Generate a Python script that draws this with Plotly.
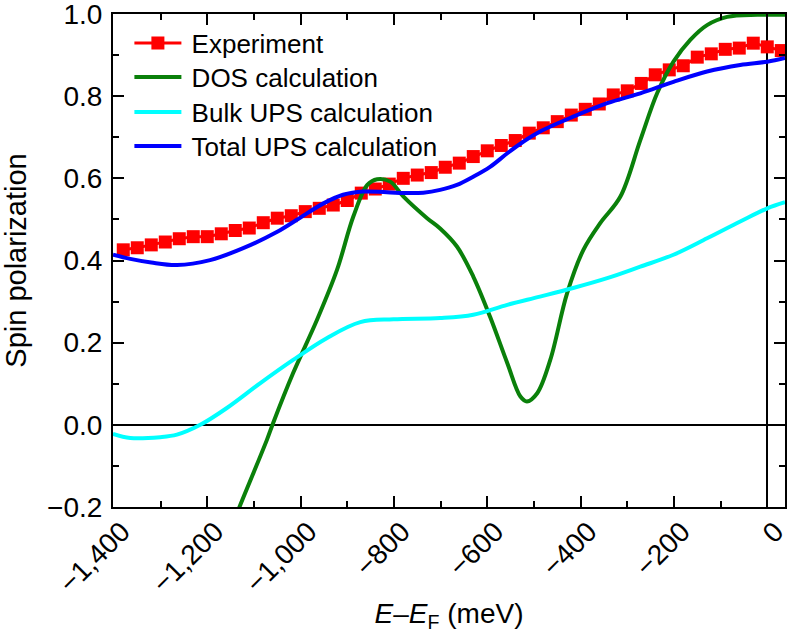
import plotly.graph_objects as go

# Experiment (markers)
exp_x = [-1380 + 30 * i for i in range(48)]
exp_y = [0.426, 0.431, 0.438, 0.445, 0.453, 0.458, 0.458, 0.465, 0.473, 0.479, 0.492, 0.503,
         0.509, 0.519, 0.527, 0.535, 0.546, 0.564, 0.574, 0.586, 0.600, 0.608, 0.614, 0.627,
         0.637, 0.653, 0.667, 0.680, 0.692, 0.710, 0.723, 0.738, 0.754, 0.768, 0.781, 0.803,
         0.813, 0.831, 0.852, 0.864, 0.874, 0.895, 0.903, 0.914, 0.917, 0.929, 0.920, 0.911]

# DOS calculation
dos_x = [-1145, -1131, -1072, -1059, -1016, -965, -922, -887, -857, -836, -808, -780, -729,
         -701, -665, -630, -594, -557, -529, -515, -493, -465, -429, -394, -358, -315, -272,
         -236, -201, -165, -129, -86, -21, 40]
dos_y = [-0.24, -0.2, -0.036, 0.004, 0.126, 0.255, 0.377, 0.507, 0.584, 0.598, 0.592, 0.556, 0.503,
         0.478, 0.434, 0.361, 0.263, 0.150, 0.069, 0.057, 0.077, 0.158, 0.320, 0.426, 0.491, 0.555,
         0.693, 0.807, 0.884, 0.937, 0.973, 0.993, 0.998, 0.998]

# Bulk UPS calculation
bulk_x = [-1402, -1365, -1301, -1265, -1215, -1158, -1087, -1016, -944, -872, -801, -701, -630,
          -557, -487, -416, -343, -272, -201, -129, -58, 0, 38]
bulk_y = [-0.022, -0.032, -0.030, -0.024, 0.0, 0.041, 0.101, 0.158, 0.211, 0.250, 0.257, 0.260,
          0.268, 0.292, 0.312, 0.333, 0.357, 0.385, 0.414, 0.454, 0.495, 0.527, 0.542]

# Total UPS calculation
tot_x = [-1402, -1365, -1320, -1265, -1194, -1123, -1050, -1008, -951, -909, -866, -815, -765,
         -737, -701, -665, -630, -594, -557, -523, -487, -416, -343, -272, -201, -129, -58, 0, 38]
tot_y = [0.414, 0.404, 0.395, 0.389, 0.401, 0.430, 0.470, 0.499, 0.539, 0.560, 0.568, 0.566,
         0.564, 0.565, 0.572, 0.584, 0.604, 0.628, 0.661, 0.689, 0.714, 0.750, 0.783, 0.807,
         0.835, 0.860, 0.876, 0.884, 0.893]

# Tick labels
x_tickvals = [-1400, -1200, -1000, -800, -600, -400, -200, 0]
x_ticktext = ["−1,400", "−1,200", "−1,000", "−800", "−600", "−400", "−200", "0"]
y_tickvals = [-0.2, 0.0, 0.2, 0.4, 0.6, 0.8, 1.0]
y_ticktext = ["−0.2", "0.0", "0.2", "0.4", "0.6", "0.8", "1.0"]

series_names = ["Experiment", "DOS calculation", "Bulk UPS calculation", "Total UPS calculation"]

FONT = "Liberation Sans, Arial, Helvetica, sans-serif"

fig = go.Figure()
fig.add_trace(go.Scatter(x=exp_x, y=exp_y, mode="lines+markers", name="\u2009" + series_names[0],
                         legend="legend",
                         line=dict(color="#ff0000", width=3),
                         marker=dict(symbol="square", size=13, color="#ff0000")))
fig.add_trace(go.Scatter(x=dos_x, y=dos_y, mode="lines", name="\u2009" + series_names[1],
                         legend="legend2",
                         line=dict(color="#0a800a", width=4, shape="spline")))
fig.add_trace(go.Scatter(x=bulk_x, y=bulk_y, mode="lines", name="\u2009" + series_names[2],
                         legend="legend3",
                         line=dict(color="#00ffff", width=4, shape="spline")))
fig.add_trace(go.Scatter(x=tot_x, y=tot_y, mode="lines", name="\u2009" + series_names[3],
                         legend="legend4",
                         line=dict(color="#0000ff", width=4, shape="spline")))

def leg(ycenter):
    return dict(x=0.0244, y=ycenter, xanchor="left", yanchor="middle",
                bgcolor="rgba(0,0,0,0)", font=dict(size=26), itemwidth=47)

fig.update_layout(
    width=788, height=633,
    margin=dict(l=113, r=3, t=14, b=126, autoexpand=False),
    paper_bgcolor="white", plot_bgcolor="white",
    font=dict(family=FONT, size=28, color="black"),
    showlegend=True,
    legend=leg(0.9412), legend2=leg(0.8722), legend3=leg(0.8012), legend4=leg(0.7323),
    xaxis=dict(range=[-1402, 38], tickmode="array", tickvals=x_tickvals, ticktext=x_ticktext,
               tickangle=-45, automargin=False, ticklabeloverflow="allow",
               ticks="inside", ticklen=11, tickwidth=2, tickcolor="black",
               showline=True, linecolor="black", linewidth=2, mirror="ticks",
               showgrid=False, zeroline=True, zerolinecolor="black", zerolinewidth=2,
               minor=dict(dtick=100, ticks="inside", ticklen=6, tickwidth=2, tickcolor="black"),
               ticklabelstandoff=-5, ticklabelshift=8, tickfont=dict(size=28),
               title=dict(text="<i>E</i>–<i>E</i><sub>F</sub> (meV)", font=dict(size=28), standoff=8)),
    yaxis=dict(range=[-0.2, 1.0], tickmode="array", tickvals=y_tickvals, ticktext=y_ticktext,
               automargin=False, ticklabeloverflow="allow",
               ticks="inside", ticklen=11, tickwidth=2, tickcolor="black",
               showline=True, linecolor="black", linewidth=2, mirror="ticks",
               showgrid=False, zeroline=True, zerolinecolor="black", zerolinewidth=2,
               minor=dict(dtick=0.1, ticks="inside", ticklen=6, tickwidth=2, tickcolor="black"),
               ticklabelstandoff=3, tickfont=dict(size=28),
               title=dict(text="Spin polarization", font=dict(size=29), standoff=23)),
)

fig.write_html("out.html", config={"displayModeBar": False},
               post_script="document.body.style.margin='0';document.body.style.overflow='hidden';")
